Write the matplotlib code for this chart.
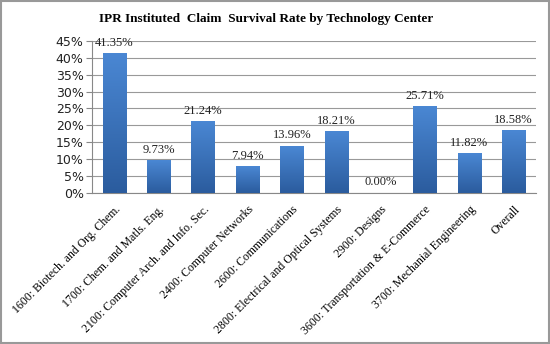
import numpy as np
import matplotlib
matplotlib.use("Agg")
import matplotlib.pyplot as plt
from matplotlib.colors import LinearSegmentedColormap

# IPR survival rate per technology center (percent)
centers = ["1600: Biotech. and Org. Chem.",
           "1700: Chem. and Matls. Eng.",
           "2100: Computer Arch. and Info. Sec.",
           "2400: Computer Networks",
           "2600: Communications",
           "2800: Electrical and Optical Systems",
           "2900: Designs",
           "3600: Transportation & E-Commerce",
           "3700: Mechanial Engineering",
           "Overall"]
rates = [41.35, 9.73, 21.24, 7.94, 13.96, 18.21, 0.00, 25.71, 11.82, 18.58]
yticks = list(range(0, 50, 5))

fig = plt.figure(figsize=(5.5, 3.44), dpi=100)
ax = fig.add_axes([0.1673, 0.4404, 0.807, 0.4404])

x = np.arange(len(centers))
bars = ax.bar(x, rates, width=0.52, color="#3a6fbf", zorder=2)

# vertical gradient inside each bar
cmap = LinearSegmentedColormap.from_list("blu", ["#2b5c9e", "#4a87d3"])
grad = np.linspace(0, 1, 64).reshape(-1, 1)
for b in bars:
    if b.get_height() <= 0:
        continue
    im = ax.imshow(grad, cmap=cmap, origin="lower", aspect="auto",
                   extent=[b.get_x(), b.get_x() + b.get_width(), 0, b.get_height()],
                   zorder=3)
    im.set_clip_path(b)

for xi, r in zip(x, rates):
    ax.text(xi, r + 1.2, f"{r:.2f}%", ha="center", va="bottom",
            fontsize=9, family="Liberation Serif", color="#222222", zorder=4)

ax.set_xlim(-0.5, len(centers) - 0.5)
ax.set_ylim(0, 45)
ax.set_yticks(yticks)
ax.set_yticklabels([f"{t}%" for t in yticks], fontsize=9, family="DejaVu Sans",
                   color="#222222")
ax.yaxis.grid(True, color="#999999", linewidth=0.8, zorder=0)
ax.set_axisbelow(True)
ax.set_xticks(x)
ax.set_xticklabels(centers, rotation=45, ha="right", rotation_mode="anchor",
                   fontsize=8.5, family="Liberation Serif")
ax.tick_params(axis="x", length=0, pad=8)
ax.tick_params(axis="y", length=4, color="#888888", pad=2)
for s in ["top", "right"]:
    ax.spines[s].set_visible(False)
ax.spines["left"].set_color("#888888")
ax.spines["bottom"].set_color("#888888")

fig.text(0.484, 0.945, "IPR Instituted  Claim  Survival Rate by Technology Center",
         ha="center", va="center", fontsize=9.5, fontweight="bold",
         family="Liberation Serif")

fig.patches.append(plt.Rectangle((0.002, 0.003), 0.996, 0.994, transform=fig.transFigure,
                                 fill=False, edgecolor="#999999", linewidth=1.5))

fig.savefig("out.png", dpi=100)
